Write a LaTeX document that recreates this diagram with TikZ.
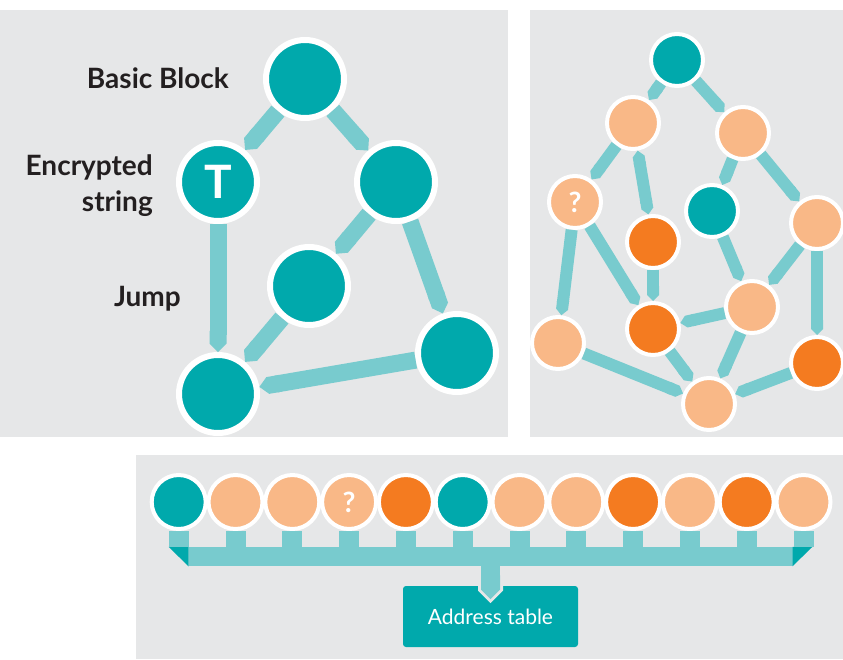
\documentclass[tikz,border=0pt]{standalone}
\usepackage{fontspec}
\setmainfont{Lato}
\usetikzlibrary{arrows.meta}

\definecolor{tealdark}{HTML}{00A9AC}
\definecolor{teallight}{HTML}{78CBCE}
\definecolor{peach}{HTML}{F9B887}
\definecolor{orangec}{HTML}{F47B20}
\definecolor{panelgray}{HTML}{E6E7E8}
\definecolor{inkdark}{HTML}{231F20}

\begin{document}
\begin{tikzpicture}[x=1pt, y=-1pt,
        block/.style={shape=circle, fill=tealdark, draw=white, line width=6pt, minimum size=78pt, inner sep=0pt,
            text=white, font=\bfseries\fontsize{46}{50}\selectfont},
        leaf/.style={shape=circle, draw=white, line width=4pt, minimum size=52pt, inner sep=0pt,
            text=white, font=\bfseries\fontsize{28}{32}\selectfont},
        cell/.style={leaf, minimum size=54pt},
        flow/.style={draw=teallight, line width=17pt, -{Triangle Cap}},
        thinflow/.style={flow, line width=12pt},
        stub/.style={draw=teallight, line width=20pt},
        lbl/.style={text=inkdark, inner sep=0pt, font=\bfseries\fontsize{28}{34}\selectfont},
        addr/.style={fill=tealdark, text=white, rounded corners=3pt, minimum width=175pt, minimum height=61pt,
            inner sep=0pt, outer sep=0pt, font=\fontsize{21}{24}\selectfont}]
        \useasboundingbox (0, 0) rectangle (843, 659);
        \fill[white] (0, 0) rectangle (843, 659);

        % panels
        \fill[panelgray] (0, 10) rectangle (508, 436.7);
        \fill[panelgray] (530, 10) rectangle (843, 436.7);
        \fill[panelgray] (136, 455) rectangle (843, 659);

        % control flow graph
        \node[block] (B1) at (305, 79) {};
        \node[block] (B2) at (218, 182) {T};
        \node[block] (B3) at (396, 182) {};
        \node[block] (B4) at (309, 286) {};
        \node[block] (B5) at (218, 394) {};
        \node[block] (B6) at (457, 353) {};

        \foreach \a/\b in {B1/B2, B1/B3, B2/B5, B3/B4, B3/B6, B4/B5, B6/B5}
            \draw[flow] (\a) -- (\b);

        \node[lbl, anchor=base east] (basic) at (229, 88) {Basic Block};
        \node[lbl, anchor=base east] (encA) at (153, 175) {Encrypted};
        \node[lbl, anchor=base east] (encB) at (153, 211) {string};
        \node[lbl, anchor=base east] (jump) at (181, 306) {Jump};

        % flattened graph
        \node[leaf, fill=tealdark] (R1) at (677, 60) {};
        \node[leaf, fill=peach] (R2) at (633, 123) {};
        \node[leaf, fill=peach] (R3) at (743, 133) {};
        \node[leaf, fill=peach] (R4) at (575, 202) {?};
        \node[leaf, fill=orangec] (R5) at (653, 242) {};
        \node[leaf, fill=tealdark] (R6) at (712, 211) {};
        \node[leaf, fill=peach] (R7) at (817, 223) {};
        \node[leaf, fill=orangec] (R8) at (653, 329) {};
        \node[leaf, fill=peach] (R9) at (752, 307) {};
        \node[leaf, fill=peach] (R10) at (558, 343) {};
        \node[leaf, fill=orangec] (R11) at (817, 363) {};
        \node[leaf, fill=peach] (R12) at (709, 404) {};

        \foreach \a/\b in {R1/R2, R1/R3, R2/R4, R3/R6, R3/R7, R4/R10, R4/R8, R5/R8, R6/R9,
                R7/R9, R7/R11, R9/R8, R10/R12, R8/R12, R9/R12, R11/R12}
            \draw[thinflow] (\a) -- (\b);
        \draw[thinflow, {Triangle Cap}-{Triangle Cap}] (R2) -- (R5);

        % address table
        \node[fill=teallight, minimum width=604pt, minimum height=19.5pt, inner sep=0pt, outer sep=0pt] (bus) at (490.5, 556.5) {};
        \fill[tealdark] (bus.north west) -- ++(-20, 0) -- (bus.south west) -- cycle;
        \fill[tealdark] (bus.north east) -- ++(20, 0) -- (bus.south east) -- cycle;

        \foreach \c/\t [count=\i] in {tealdark/, peach/, peach/, peach/?, orangec/, tealdark/,
                peach/, peach/, orangec/, peach/, orangec/, peach/}
            \node[cell, fill=\c] (C\i) at ({121.9 + 56.8*\i}, 502) {\t};
        \foreach \i in {1,...,12}
            \draw[stub] (C\i) -- (C\i |- bus.north);

        \node[addr] (box) at (490.5, 616.5) {Address table};
        \coordinate (notch) at ([yshift=-17pt]box.north);
        \coordinate (tip) at ([yshift=-13pt]box.north);
        \draw[panelgray, line width=25pt, -{Triangle Cap}] (bus.south) -- (notch);
        \draw[stub, line width=19pt, -{Triangle Cap}] (bus.south) -- (tip);
    \end{tikzpicture}
\end{document}
